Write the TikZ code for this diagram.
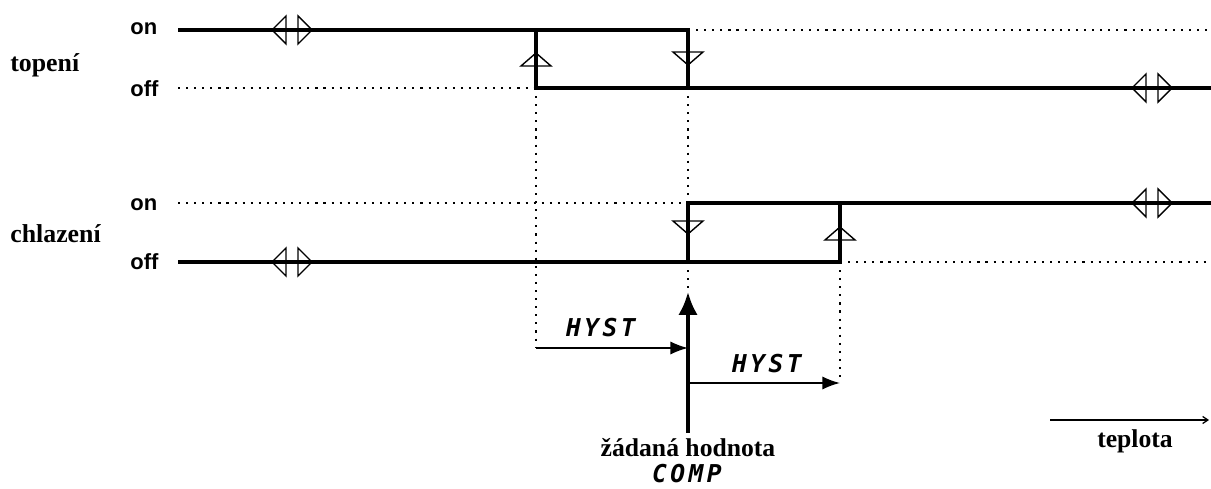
\documentclass[tikz,border=0pt]{standalone}
\usepackage{fontspec}
\setmainfont{Liberation Serif}
\newfontfamily\arialfont{Liberation Sans}
\newfontfamily\segfont[LetterSpace=14]{DejaVu Sans Mono}
\usetikzlibrary{arrows.meta}
\definecolor{sigblack}{RGB}{0,0,0}

\tikzset{
  signal/.style={draw=sigblack, line width=2.1pt},
  guide/.style={draw=sigblack, line width=1.2pt, dash pattern=on 1.2pt off 3.4pt},
  marker/.style={draw=sigblack, line width=0.8pt},
  onoff/.style={font=\arialfont\bfseries\fontsize{12.5}{15}\selectfont, anchor=base west, inner sep=0},
  rowlabel/.style={font=\bfseries\fontsize{14.7}{16}\selectfont, anchor=base west, inner sep=0},
  hyst/.style={font=\segfont\bfseries\itshape\fontsize{14}{16}\selectfont, anchor=base, inner sep=0},
}

\begin{document}
\begin{tikzpicture}[x=0.02cm, y=-0.02cm]

% Bounding box
\useasboundingbox (0,0) rectangle (1211,489);

% Row labels
\node[rowlabel] (topeni) at (10,72) {topení};
\node[rowlabel] (chlazeni) at (10,243) {chlazení};

% State labels
\foreach \y/\t/\n in {35/on/hon, 97/off/hoff, 211/on/con, 270/off/coff}
  \node[onoff] (\n) at (130,\y) {\t};

% Key points
\coordinate (hystA) at (536,348);
\coordinate (hystB) at (688,348);
\coordinate (hystC) at (688,383);
\coordinate (hystD) at (840,383);
\coordinate (setTail) at (688,433);
\coordinate (setTip) at (688,292);
\coordinate (tempA) at (1050,420);
\coordinate (tempB) at (1209,420);

% Dotted guides
\draw[guide] (688,30) -- (1211,30);
\draw[guide] (178,88) -- (536,88);
\draw[guide] (178,203) -- (688,203);
\draw[guide] (840,262) -- (1211,262);
\draw[guide] (536,88) -- (hystA);
\draw[guide] (688,88) -- (688,203);
\draw[guide] (688,262) -- (setTip);
\draw[guide] (840,262) -- (hystD);

% Heating signal
\draw[signal] (178,30) -- (688,30) -- (688,88);
\draw[signal] (536,30) -- (536,88) -- (1211,88);

% Cooling signal
\draw[signal] (178,262) -- (840,262) -- (840,203);
\draw[signal] (688,262) -- (688,203) -- (1211,203);

% Double markers
\foreach \cx/\cy in {292/30, 292/262, 1152/88, 1152/203} {
  \draw[marker] ({\cx-20},\cy) -- ({\cx-6},{\cy-14}) -- ({\cx-6},{\cy+14}) -- cycle;
  \draw[marker] ({\cx+20},\cy) -- ({\cx+6},{\cy-14}) -- ({\cx+6},{\cy+14}) -- cycle;
}

% Switching triangles
\foreach \x/\y in {536/53, 840/227}
  \draw[marker] (\x,\y) -- ({\x-15},{\y+13}) -- ({\x+15},{\y+13}) -- cycle;
\foreach \x/\y in {688/52, 688/221}
  \draw[marker] ({\x-15},\y) -- ({\x+15},\y) -- (\x,{\y+13}) -- cycle;

% Hysteresis arrows
\draw[line width=1pt, -{Latex[length=10pt,width=7.5pt]}] (hystA) -- (hystB);
\draw[line width=1pt, -{Latex[length=10pt,width=7.5pt]}] (hystC) -- (hystD);
\node[hyst] (hyst1) at (601,337) {HYST};
\node[hyst] (hyst2) at (767,373) {HYST};

% Set point
\draw[line width=2.1pt, -{Latex[length=13pt,width=11pt]}] (setTail) -- (setTip);
\node[font=\bfseries\fontsize{14.6}{16}\selectfont, anchor=base, inner sep=0] (setpt) at (688,457) {žádaná hodnota};
\node[hyst] (comp) at (687,483) {COMP};

% Temperature axis
\draw[line width=0.7pt, -{Straight Barb[length=3pt,width=4pt]}] (tempA) -- (tempB);
\node[font=\bfseries\fontsize{14.6}{16}\selectfont, anchor=base, inner sep=0] (teplota) at (1135,448) {teplota};

\end{tikzpicture}
\end{document}
